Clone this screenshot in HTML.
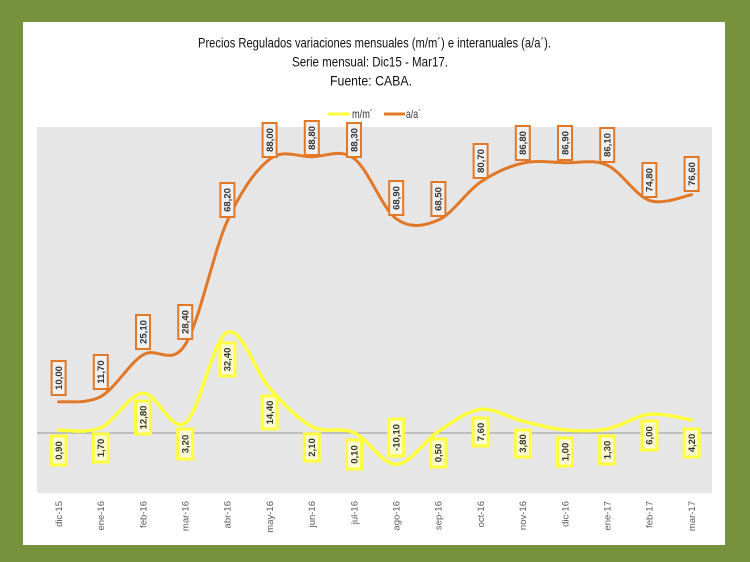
<!DOCTYPE html>
<html><head><meta charset="utf-8"><style>
html,body{margin:0;padding:0;background:#76923c;}
svg{display:block;}
</style></head><body>
<svg width="750" height="562" viewBox="0 0 750 562" xmlns="http://www.w3.org/2000/svg" font-family="'Liberation Sans', sans-serif">
<rect x="0" y="0" width="750" height="562" fill="#76923c"/>
<rect x="23" y="22" width="702" height="523" fill="#ffffff"/>
<rect x="37" y="127" width="675" height="366" fill="#e6e6e6"/>

<!-- title -->
<g fill="#111111" font-size="14" text-anchor="start">
<text x="198" y="47.5" textLength="353" lengthAdjust="spacingAndGlyphs">Precios Regulados variaciones mensuales (m/m´) e interanuales (a/a´).</text>
<text x="292" y="66.5" textLength="156" lengthAdjust="spacingAndGlyphs">Serie mensual: Dic15 - Mar17.</text>
<text x="330" y="85.5" textLength="82" lengthAdjust="spacingAndGlyphs">Fuente: CABA.</text>
</g>

<!-- legend -->
<line x1="328" y1="114" x2="350" y2="114" stroke="#ffff40" stroke-width="3"/>
<text x="352" y="118" font-size="12" fill="#333333" textLength="21" lengthAdjust="spacingAndGlyphs">m/m´</text>
<line x1="384" y1="114" x2="405" y2="114" stroke="#e07828" stroke-width="3"/>
<text x="406" y="118" font-size="12" fill="#333333" textLength="15" lengthAdjust="spacingAndGlyphs">a/a´</text>

<!-- zero line -->
<line x1="37" y1="433" x2="712" y2="433" stroke="#a6a6a6" stroke-width="1.2"/>

<!-- a/a series -->
<path fill="none" stroke="#e07828" stroke-width="3" stroke-linecap="round" d="M58.6,401.9 C65.6,401.0 86.7,404.4 100.8,396.6 C114.9,388.8 128.9,363.6 143.0,354.9 C157.1,346.3 171.1,367.0 185.2,344.7 C199.3,322.4 213.3,251.8 227.4,220.9 C241.5,190.0 255.5,170.0 269.6,159.3 C283.7,148.6 297.7,157.0 311.8,156.8 C325.9,156.7 339.9,148.1 354.0,158.4 C368.1,168.7 382.1,208.4 396.2,218.7 C410.3,229.0 424.3,226.1 438.4,220.0 C452.5,213.9 466.5,191.5 480.6,182.0 C494.7,172.5 508.7,166.3 522.8,163.1 C536.9,159.9 550.9,162.35 565.0,162.7 C579.1,163.05 593.1,158.9 607.2,165.2 C621.3,171.5 635.3,195.5 649.4,200.4 C663.5,205.3 684.6,195.7 691.6,194.8"/>

<!-- m/m series -->
<path fill="none" stroke="#ffff40" stroke-width="3.5" stroke-linecap="round" d="M58.6,430.2 C65.6,429.8 86.7,433.9 100.8,427.7 C114.9,421.5 128.9,394.0 143.0,393.2 C157.1,392.4 171.1,433.2 185.2,423.0 C199.3,412.8 213.3,338.0 227.4,332.2 C241.5,326.4 255.5,372.5 269.6,388.2 C283.7,403.9 297.7,419.1 311.8,426.5 C325.9,433.9 339.9,426.4 354.0,432.7 C368.1,439.0 382.1,464.6 396.2,464.4 C410.3,464.2 424.3,440.6 438.4,431.4 C452.5,422.2 466.5,411.1 480.6,409.4 C494.7,407.7 508.7,417.8 522.8,421.2 C536.9,424.6 550.9,428.6 565.0,429.9 C579.1,431.2 593.1,431.6 607.2,429.0 C621.3,426.4 635.3,415.8 649.4,414.3 C663.5,412.8 684.6,419.0 691.6,419.9"/>

<!-- a/a labels -->
<g fill="#f0f0f0" stroke="#e07828" stroke-width="2">
<rect x="51.6" y="361" width="14" height="34"/>
<rect x="93.8" y="355" width="14" height="34"/>
<rect x="136" y="315" width="14" height="34"/>
<rect x="178.2" y="305" width="14" height="34"/>
<rect x="220.4" y="183" width="14" height="34"/>
<rect x="262.6" y="123" width="14" height="34"/>
<rect x="304.8" y="121" width="14" height="34"/>
<rect x="347" y="123" width="14" height="34"/>
<rect x="389.2" y="181" width="14" height="34"/>
<rect x="431.4" y="182" width="14" height="34"/>
<rect x="473.6" y="144" width="14" height="34"/>
<rect x="515.8" y="126" width="14" height="34"/>
<rect x="558" y="126" width="14" height="34"/>
<rect x="600.2" y="128" width="14" height="34"/>
<rect x="642.4" y="163" width="14" height="34"/>
<rect x="684.6" y="157" width="14" height="34"/>
</g>
<g fill="#333333" font-size="9.5" font-weight="bold" text-anchor="middle">
<text transform="translate(58.6,378) rotate(-90)" dy="0.35em">10,00</text>
<text transform="translate(100.8,372) rotate(-90)" dy="0.35em">11,70</text>
<text transform="translate(143,332) rotate(-90)" dy="0.35em">25,10</text>
<text transform="translate(185.2,322) rotate(-90)" dy="0.35em">28,40</text>
<text transform="translate(227.4,200) rotate(-90)" dy="0.35em">68,20</text>
<text transform="translate(269.6,140) rotate(-90)" dy="0.35em">88,00</text>
<text transform="translate(311.8,138) rotate(-90)" dy="0.35em">88,80</text>
<text transform="translate(354,140) rotate(-90)" dy="0.35em">88,30</text>
<text transform="translate(396.2,198) rotate(-90)" dy="0.35em">68,90</text>
<text transform="translate(438.4,199) rotate(-90)" dy="0.35em">68,50</text>
<text transform="translate(480.6,161) rotate(-90)" dy="0.35em">80,70</text>
<text transform="translate(522.8,143) rotate(-90)" dy="0.35em">86,80</text>
<text transform="translate(565,143) rotate(-90)" dy="0.35em">86,90</text>
<text transform="translate(607.2,145) rotate(-90)" dy="0.35em">86,10</text>
<text transform="translate(649.4,180) rotate(-90)" dy="0.35em">74,80</text>
<text transform="translate(691.6,174) rotate(-90)" dy="0.35em">76,60</text>
</g>

<!-- m/m labels -->
<g fill="#fafad2" stroke="#ffff40" stroke-width="3">
<rect x="51.1" y="436" width="15" height="29"/>
<rect x="93.3" y="434" width="15" height="28"/>
<rect x="135.5" y="401" width="15" height="33"/>
<rect x="177.7" y="429" width="15" height="30"/>
<rect x="219.9" y="343" width="15" height="33"/>
<rect x="262.1" y="396" width="15" height="33"/>
<rect x="304.3" y="434" width="15" height="27"/>
<rect x="346.5" y="440" width="15" height="29"/>
<rect x="388.7" y="419" width="15" height="37"/>
<rect x="430.9" y="439" width="15" height="28"/>
<rect x="473.1" y="418" width="15" height="28"/>
<rect x="515.3" y="430" width="15" height="27"/>
<rect x="557.5" y="438" width="15" height="28"/>
<rect x="599.7" y="436" width="15" height="28"/>
<rect x="641.9" y="421" width="15" height="29"/>
<rect x="684.1" y="429" width="15" height="28"/>
</g>
<g fill="#333333" font-size="9.5" font-weight="bold" text-anchor="middle">
<text transform="translate(58.6,450.5) rotate(-90)" dy="0.35em">0,90</text>
<text transform="translate(100.8,448) rotate(-90)" dy="0.35em">1,70</text>
<text transform="translate(143,417.5) rotate(-90)" dy="0.35em">12,80</text>
<text transform="translate(185.2,444) rotate(-90)" dy="0.35em">3,20</text>
<text transform="translate(227.4,359.5) rotate(-90)" dy="0.35em">32,40</text>
<text transform="translate(269.6,412.5) rotate(-90)" dy="0.35em">14,40</text>
<text transform="translate(311.8,447.5) rotate(-90)" dy="0.35em">2,10</text>
<text transform="translate(354,454.5) rotate(-90)" dy="0.35em">0,10</text>
<text transform="translate(396.2,437.5) rotate(-90)" dy="0.35em">-10,10</text>
<text transform="translate(438.4,453) rotate(-90)" dy="0.35em">0,50</text>
<text transform="translate(480.6,432) rotate(-90)" dy="0.35em">7,60</text>
<text transform="translate(522.8,443.5) rotate(-90)" dy="0.35em">3,80</text>
<text transform="translate(565,452) rotate(-90)" dy="0.35em">1,00</text>
<text transform="translate(607.2,450) rotate(-90)" dy="0.35em">1,30</text>
<text transform="translate(649.4,435.5) rotate(-90)" dy="0.35em">6,00</text>
<text transform="translate(691.6,443) rotate(-90)" dy="0.35em">4,20</text>
</g>

<!-- x axis labels -->
<g fill="#595959" font-size="9.5" text-anchor="end">
<text transform="translate(58.6,501) rotate(-90)" dy="0.35em">dic-15</text>
<text transform="translate(100.8,501) rotate(-90)" dy="0.35em">ene-16</text>
<text transform="translate(143,501) rotate(-90)" dy="0.35em">feb-16</text>
<text transform="translate(185.2,501) rotate(-90)" dy="0.35em">mar-16</text>
<text transform="translate(227.4,501) rotate(-90)" dy="0.35em">abr-16</text>
<text transform="translate(269.6,501) rotate(-90)" dy="0.35em">may-16</text>
<text transform="translate(311.8,501) rotate(-90)" dy="0.35em">jun-16</text>
<text transform="translate(354,501) rotate(-90)" dy="0.35em">jul-16</text>
<text transform="translate(396.2,501) rotate(-90)" dy="0.35em">ago-16</text>
<text transform="translate(438.4,501) rotate(-90)" dy="0.35em">sep-16</text>
<text transform="translate(480.6,501) rotate(-90)" dy="0.35em">oct-16</text>
<text transform="translate(522.8,501) rotate(-90)" dy="0.35em">nov-16</text>
<text transform="translate(565,501) rotate(-90)" dy="0.35em">dic-16</text>
<text transform="translate(607.2,501) rotate(-90)" dy="0.35em">ene-17</text>
<text transform="translate(649.4,501) rotate(-90)" dy="0.35em">feb-17</text>
<text transform="translate(691.6,501) rotate(-90)" dy="0.35em">mar-17</text>
</g>
</svg>
</body></html>
